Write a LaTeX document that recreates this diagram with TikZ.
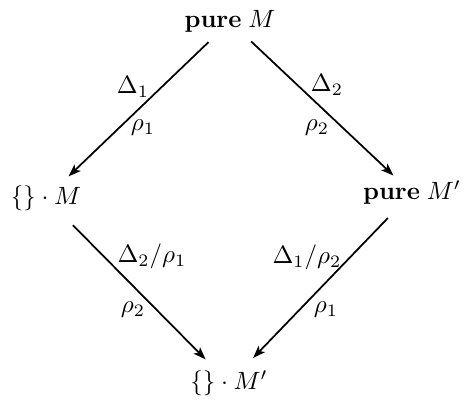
\documentclass[tikz,border=0pt]{standalone}
\usetikzlibrary{arrows.meta}
\begin{document}
\begin{tikzpicture}[x=0.4pt,y=-0.4pt,
  obj/.style={inner sep=0pt,anchor=center},
  lab/.style={inner sep=0pt,anchor=center},
  arr/.style={line width=0.7pt,-{Stealth[length=5pt,width=3.6pt,inset=1.2pt]}}]
\useasboundingbox (0,0) rectangle (468,403);
\node[obj] (pm)  at (230,21.5) {$\mathbf{pure}\;M$};
\node[obj] (em)  at (46,198) {$\{\}\cdot M$};
\node[obj] (pm2) at (412,193) {$\mathbf{pure}\;M'$};
\node[obj] (em2) at (229,383) {$\{\}\cdot M'$};
\draw[arr,shorten <=11.9pt,shorten >=12.5pt] (pm.center) -- (em.center);
\draw[arr,shorten <=11.6pt,shorten >=10.2pt] (pm.center) -- (pm2.center);
\draw[arr,shorten <=15.3pt,shorten >=13.3pt] (em.center) -- (em2.center);
\draw[arr,shorten <=13.9pt,shorten >=13.9pt] (pm2.center) -- (em2.center);
\node[lab] (l1) at (133,87) {$\Delta_1$};
\node[lab] (l2) at (143,128) {$\rho_1$};
\node[lab] (l3) at (327,85) {$\Delta_2$};
\node[lab] (l4) at (317,128) {$\rho_2$};
\node[lab] (l5) at (152,256) {$\Delta_2/\rho_1$};
\node[lab] (l6) at (133,310) {$\rho_2$};
\node[lab] (l7) at (307,257) {$\Delta_1/\rho_2$};
\node[lab] (l8) at (326,310) {$\rho_1$};
\end{tikzpicture}
\end{document}
